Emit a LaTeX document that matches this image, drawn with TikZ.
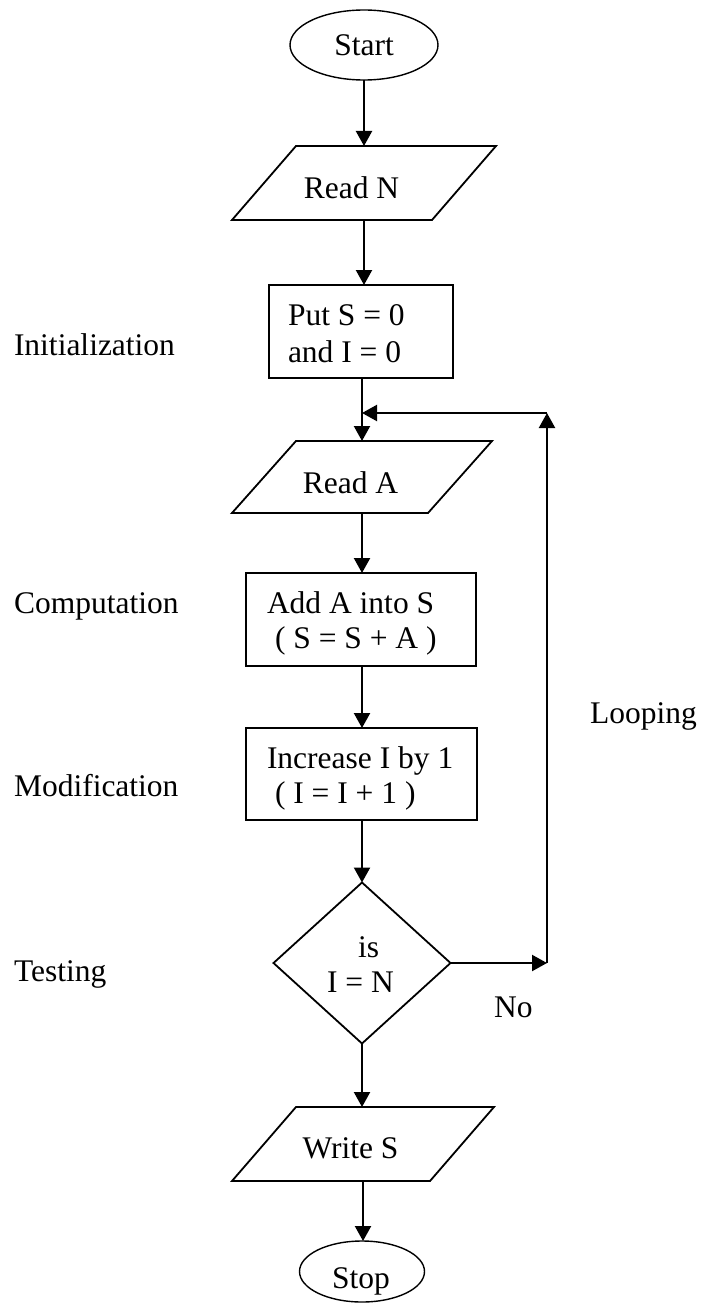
\documentclass[tikz,border=0pt]{standalone}
\usepackage{fontspec}
\setmainfont{Liberation Serif}
\usetikzlibrary{arrows.meta,shapes.geometric}
\begin{document}
\begin{tikzpicture}[x=1pt,y=-1pt,
  every node/.style={font=\fontsize{31.5}{37}\selectfont, inner sep=0pt, outer sep=0pt},
  term/.style={ellipse, draw, line width=1.4pt},
  io/.style={rectangle, minimum height=74pt},
  proc/.style={rectangle, draw, line width=1.8pt},
  dec/.style={rectangle, minimum width=177pt, minimum height=161pt},
  shapeline/.style={line width=1.8pt, line join=miter},
  arr/.style={line width=2.2pt, -{Triangle[length=15pt,width=16pt]}},
  txt/.style={anchor=base west},
  ctxt/.style={anchor=base}]
\useasboundingbox (0,0) rectangle (703,1308);

% terminals
\node[term, minimum width=148pt, minimum height=70pt] (start) at (364,45) {Start};
\node[term, minimum width=125pt, minimum height=61pt] (stop) at (362,1271.5) {};
\node[ctxt] (tstop) at (361,1288) {Stop};

% input/output (parallelograms)
\node[io, minimum width=200pt] (readN) at (364,183) {};
\draw[shapeline] ([xshift=32pt]readN.north west) -- ([xshift=32pt]readN.north east)
  -- ([xshift=-32pt]readN.south east) -- ([xshift=-32pt]readN.south west) -- cycle;
\node[ctxt] (treadN) at (351.5,198) {Read N};

\node[io, minimum width=196pt, minimum height=72pt] (readA) at (362,477) {};
\draw[shapeline] ([xshift=32pt]readA.north west) -- ([xshift=32pt]readA.north east)
  -- ([xshift=-32pt]readA.south east) -- ([xshift=-32pt]readA.south west) -- cycle;
\node[ctxt] (treadA) at (350.5,493) {Read A};

\node[io, minimum width=198pt] (writeS) at (363,1144) {};
\draw[shapeline] ([xshift=32pt]writeS.north west) -- ([xshift=32pt]writeS.north east)
  -- ([xshift=-32pt]writeS.south east) -- ([xshift=-32pt]writeS.south west) -- cycle;
\node[ctxt] (twriteS) at (350.5,1158) {Write S};

% processes
\node[proc, minimum width=184pt, minimum height=93pt] (init) at (361,331.5) {};
\node[txt] (tinit1) at (288,325) {Put S = 0};
\node[txt] (tinit2) at (288,362) {and I = 0};

\node[proc, minimum width=230pt, minimum height=93pt] (add) at (361,619.5) {};
\node[txt] (tadd1) at (267,613) {Add A into S};
\node[txt] (tadd2) at (275,648) {( S = S + A )};

\node[proc, minimum width=231pt, minimum height=92pt] (inc) at (361.5,774) {};
\node[txt] (tinc1) at (267,768) {Increase I by 1};
\node[txt] (tinc2) at (275,803) {( I = I + 1 )};

% decision
\node[dec] (test) at (362,963) {};
\draw[shapeline] (test.north) -- (test.east) -- (test.south) -- (test.west) -- cycle;
\node[txt] (tis) at (358,957) {is};
\node[txt] (tIN) at (327,992) {I = N};

% side labels
\node[txt] (lInit) at (14,355) {Initialization};
\node[txt] (lComp) at (14,613) {Computation};
\node[txt] (lMod) at (14,796) {Modification};
\node[txt] (lTest) at (14,981) {Testing};
\node[txt] (lLoop) at (590,723) {Looping};
\node[txt] (lNo) at (494,1017) {No};

% connectors
\coordinate (c1) at (547,963);
\coordinate (c2) at (547,413);
\coordinate (j) at (362,413);

\draw[arr] (start.south -| readN.north) -- (readN.north);
\draw[arr] (readN.south) -- (readN.south |- init.north);
\draw[arr] (init.south -| readA.north) -- (readA.north);
\draw[arr] (readA.south) -- (readA.south |- add.north);
\draw[arr] (add.south -| readA.south) -- (readA.south |- inc.north);
\draw[arr] (inc.south -| test.north) -- (test.north);
\draw[arr] (test.south) -- (test.south |- writeS.north);
\draw[arr] (writeS.south) -- (writeS.south |- stop.north);
\draw[arr] (test.east) -- (c1);
\draw[arr] (c1) -- (c2);
\draw[arr] (c2) -- (j);
\end{tikzpicture}
\end{document}
